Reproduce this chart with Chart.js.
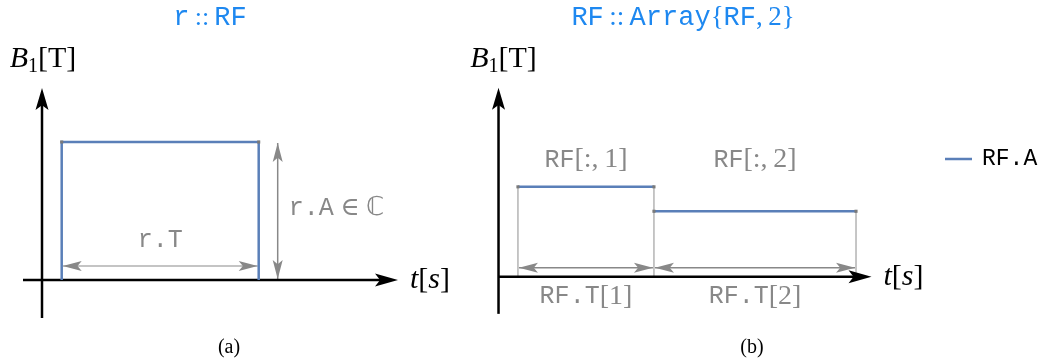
<!DOCTYPE html>
<html>
<head>
<meta charset="utf-8">
<script src="https://cdn.jsdelivr.net/npm/chart.js@4/dist/chart.umd.min.js"></script>
<style>
  html, body { margin: 0; padding: 0; background: #fff; }
  #wrap { position: relative; width: 1042px; height: 363px; }
  canvas { position: absolute; top: 0; }
</style>
</head>
<body>
<div id="wrap">
  <canvas id="panelA" width="460" height="363" style="left:0"></canvas>
  <canvas id="panelB" width="582" height="363" style="left:460px"></canvas>
</div>
<script>
// (a) one block pulse r
const rStart = 0.1;
const rDur = [1.0];
const rAmp = [1.0];

// (b) RF array: two blocks back to back
const seqStart = 0.1;
const seqDur = [0.7, 1.04];
const seqAmp = [0.667, 0.486];

const BLUE = '#5a7fb8';
const GREY = '#888888';
const TITLE = '#1e88f0';
const MONO = '"Liberation Mono", "DejaVu Sans Mono", monospace';
const SERIF = '"Liberation Serif", "DejaVu Serif", serif';

// step outline of a pulse train: [{x,y}] with null gaps between blocks
function blockPoints(start, durs, amps, withSides) {
  const pts = [];
  let t = start;
  durs.forEach((d, i) => {
    if (withSides) pts.push({x: t, y: 0});
    pts.push({x: t, y: amps[i]});
    pts.push({x: t + d, y: amps[i]});
    if (withSides) pts.push({x: t + d, y: 0});
    else if (i < durs.length - 1) pts.push({x: t + d, y: null});
    t += d;
  });
  return pts;
}

function edges(start, durs) {
  const e = [start];
  durs.forEach(d => e.push(e[e.length - 1] + d));
  return e;
}

function head(ctx, x, y, ang, len, half, color) {
  ctx.save();
  ctx.translate(x, y);
  ctx.rotate(ang);
  ctx.beginPath();
  ctx.moveTo(0, 0);
  ctx.lineTo(-len, -half);
  ctx.lineTo(-len * 0.78, 0);
  ctx.lineTo(-len, half);
  ctx.closePath();
  ctx.fillStyle = color;
  ctx.fill();
  ctx.restore();
}

function line(ctx, x1, y1, x2, y2, color, w) {
  ctx.beginPath();
  ctx.moveTo(x1, y1);
  ctx.lineTo(x2, y2);
  ctx.strokeStyle = color;
  ctx.lineWidth = w;
  ctx.stroke();
}

// two-headed dimension arrow
function dimArrow(ctx, x1, y1, x2, y2, lineColor) {
  const ang = Math.atan2(y2 - y1, x2 - x1);
  line(ctx, x1, y1, x2, y2, lineColor, 1.5);
  head(ctx, x2, y2, ang, 19, 5, GREY);
  head(ctx, x1, y1, ang + Math.PI, 19, 5, GREY);
}

// text made of [string, font, dy] runs
function rich(ctx, parts, x, y, color, align) {
  let w = 0;
  parts.forEach(p => { ctx.font = p[1]; w += ctx.measureText(p[0]).width; });
  let cx = align === 'left' ? x : x - w / 2;
  ctx.textBaseline = 'middle';
  ctx.textAlign = 'left';
  ctx.fillStyle = color;
  parts.forEach(p => {
    ctx.font = p[1];
    ctx.fillText(p[0], cx, y + (p[2] || 0));
    cx += ctx.measureText(p[0]).width;
  });
}

const bLabel = [['B', 'italic 30px ' + SERIF], ['1', '20px ' + SERIF, 8], ['[T]', '30px ' + SERIF]];
const tLabel = [['t', 'italic 30px ' + SERIF], ['[', '30px ' + SERIF], ['s', 'italic 30px ' + SERIF], [']', '30px ' + SERIF]];

function drawAxes(chart, o) {
  const ctx = chart.ctx;
  const x0 = chart.scales.x.getPixelForValue(0);
  const y0 = chart.scales.y.getPixelForValue(0);
  ctx.save();
  line(ctx, x0 - o.left, y0, x0 + o.right - 10, y0, '#000', 2.5);
  head(ctx, x0 + o.right, y0, 0, 23, 6.5, '#000');
  line(ctx, x0, y0 + o.down, x0, y0 - o.up + 10, '#000', 2.5);
  head(ctx, x0, y0 - o.up, -Math.PI / 2, 22, 6.5, '#000');
  rich(ctx, bLabel, x0 + o.bdx, y0 - o.up - 29, '#000');
  rich(ctx, tLabel, x0 + o.right + 12, y0, '#000', 'left');
  ctx.restore();
}

const sketchA = {
  id: 'sketchA',
  beforeDatasetsDraw(chart) {
    const ctx = chart.ctx, xs = chart.scales.x, ys = chart.scales.y;
    const e = edges(rStart, rDur);
    const x1 = xs.getPixelForValue(e[0]), x2 = xs.getPixelForValue(e[1]);
    const y0 = ys.getPixelForValue(0), yA = ys.getPixelForValue(rAmp[0]);
    ctx.save();
    dimArrow(ctx, x1 + 1, y0 - 14, x2 - 1, y0 - 14, '#b0b0b0');
    dimArrow(ctx, x2 + 19, yA + 1, x2 + 19, y0 - 1, GREY);
    ctx.restore();
    drawAxes(chart, {left: 19, right: 356, up: 192, down: 38, bdx: 1});
  },
  afterDraw(chart) {
    const ctx = chart.ctx, xs = chart.scales.x, ys = chart.scales.y;
    const e = edges(rStart, rDur);
    const x1 = xs.getPixelForValue(e[0]), x2 = xs.getPixelForValue(e[1]);
    const y0 = ys.getPixelForValue(0), yA = ys.getPixelForValue(rAmp[0]);
    ctx.save();
    rich(ctx, [['r', '27px ' + MONO], ['\u2009::\u2009', '26px ' + SERIF], ['RF', '27px ' + MONO]], 210, 18, TITLE);
    rich(ctx, [['r.T', '25px ' + MONO]], (x1 + x2) / 2, y0 - 40, GREY);
    rich(ctx, [['r.A', '25px ' + MONO], [' \u2208 ', '26px ' + SERIF], ['\u2102', '26px "DejaVu Sans"']],
      x2 + 30, (yA + y0) / 2 - 3, GREY, 'left');
    rich(ctx, [['(a)', '20px ' + SERIF]], 229, 348, '#000');
    ctx.restore();
  }
};

const sketchB = {
  id: 'sketchB',
  beforeDatasetsDraw(chart) {
    const ctx = chart.ctx, xs = chart.scales.x, ys = chart.scales.y;
    const e = edges(seqStart, seqDur);
    const y0 = ys.getPixelForValue(0);
    ctx.save();
    // grey uprights at every block edge, up to the taller neighbour
    e.forEach((t, i) => {
      const a = Math.max(seqAmp[i - 1] || 0, seqAmp[i] || 0);
      const x = xs.getPixelForValue(t);
      line(ctx, x, ys.getPixelForValue(a), x, y0, '#a8a8a8', 1.3);
    });
    seqDur.forEach((d, i) => {
      const xa = xs.getPixelForValue(e[i]), xb = xs.getPixelForValue(e[i + 1]);
      dimArrow(ctx, xa + 1, y0 - 9, xb - 1, y0 - 9, GREY);
    });
    ctx.restore();
    drawAxes(chart, {left: 0, right: 373, up: 189, down: 37, bdx: 5});
  },
  afterDraw(chart) {
    const ctx = chart.ctx, xs = chart.scales.x, ys = chart.scales.y;
    const e = edges(seqStart, seqDur);
    const y0 = ys.getPixelForValue(0);
    ctx.save();
    const m = '27px ' + MONO, s = '27px ' + SERIF;
    rich(ctx, [['RF', m], ['\u2009::\u2009', s], ['Array', m], ['{', s], ['RF', m], [',\u20092}', s]], 223, 18, TITLE);
    seqDur.forEach((d, i) => {
      const cx = (xs.getPixelForValue(e[i]) + xs.getPixelForValue(e[i + 1])) / 2;
      rich(ctx, [['RF', '25px ' + MONO], ['[:,\u2009' + (i + 1) + ']', '28px ' + SERIF]], cx, 160, GREY);
      rich(ctx, [['RF.T', '25px ' + MONO], ['[' + (i + 1) + ']', '28px ' + SERIF]], cx, y0 + 20, GREY);
    });
    // legend
    const ds = chart.data.datasets[0];
    line(ctx, 485, 159, 512, 159, ds.borderColor, 2.5);
    rich(ctx, [[ds.label, '23px ' + MONO]], 522, 159, '#000', 'left');
    rich(ctx, [['(b)', '20px ' + SERIF]], 292, 348, '#000');
    ctx.restore();
  }
};

function pulseChart(id, pts, xr, yr, plugin) {
  return new Chart(document.getElementById(id), {
    type: 'line',
    data: {
      datasets: [{
        label: 'RF.A',
        data: pts,
        borderColor: BLUE,
        borderWidth: 2.5,
        spanGaps: false,
        pointStyle: 'rect',
        pointRadius: c => (c.raw && c.raw.y ? 2.2 : 0),
        pointBackgroundColor: '#7a7a7a',
        pointBorderWidth: 0,
        tension: 0
      }]
    },
    options: {
      responsive: false,
      animation: false,
      layout: { padding: 0 },
      plugins: { legend: { display: false }, tooltip: { enabled: false } },
      scales: {
        x: { type: 'linear', display: false, min: xr[0], max: xr[1] },
        y: { type: 'linear', display: false, min: yr[0], max: yr[1] }
      }
    },
    plugins: [plugin]
  });
}

pulseChart('panelA', blockPoints(rStart, rDur, rAmp, true), [-42 / 197, 418 / 197], [-83 / 138, 280 / 138], sketchA);
pulseChart('panelB', blockPoints(seqStart, seqDur, seqAmp, false), [-35 / 197, 547 / 197], [-84 / 138, 279 / 138], sketchB);
</script>
</body>
</html>
